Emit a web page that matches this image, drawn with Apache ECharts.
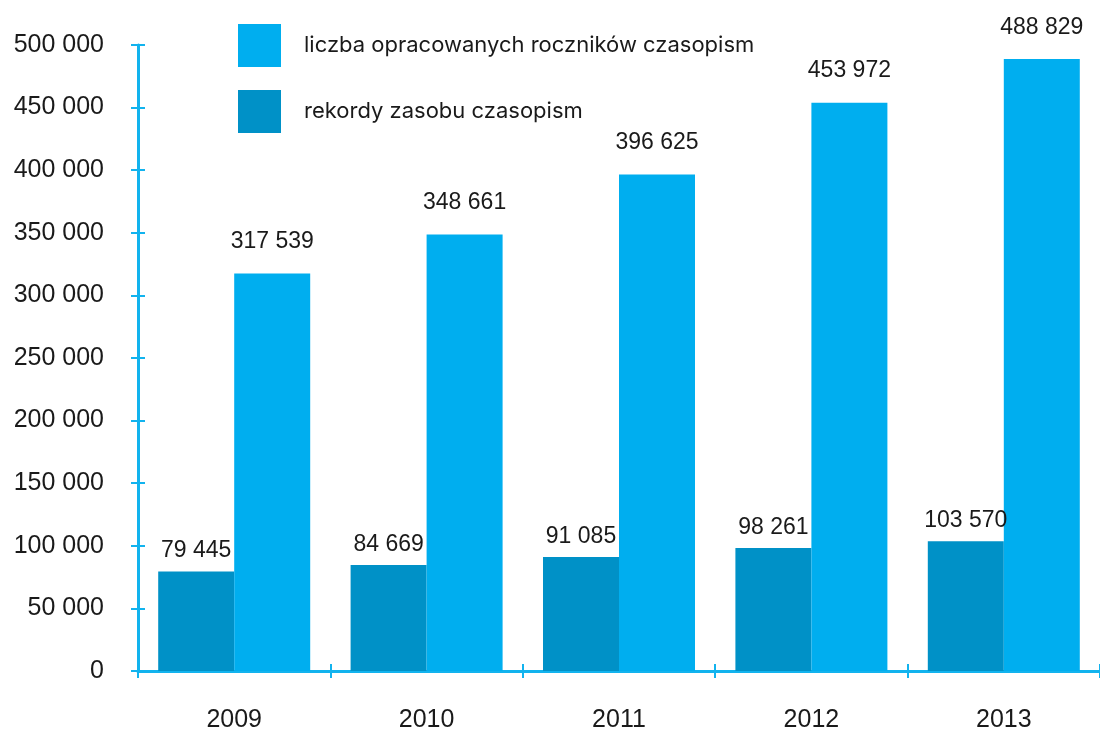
<!DOCTYPE html>
<html>
<head>
<meta charset="utf-8">
<script src="https://cdn.jsdelivr.net/npm/echarts@6/dist/echarts.min.js"></script>
<style>
  html, body { margin: 0; padding: 0; background: #fff; }
  #chart { width: 1100px; height: 733px; }
</style>
</head>
<body>
<div id="chart"></div>
<script>
// lata
var years = ["2009", "2010", "2011", "2012", "2013"];
// rekordy zasobu czasopism
var rekordy = [79445, 84669, 91085, 98261, 103570];
// liczba opracowanych rocznikow czasopism
var roczniki = [317539, 348661, 396625, 453972, 488829];
var seriesNames = ["rekordy zasobu czasopism", "liczba opracowanych roczników czasopism"];

var light = "#00aeef";
var dark = "#0091c7";
var axisColor = "#12b3ee";

function spaced(v) {
  return String(v).replace(/\B(?=(\d{3})+(?!\d))/g, " ");
}

var chart = echarts.init(document.getElementById("chart"));
var option = {
  animation: false,
  textStyle: { fontFamily: "Liberation Sans" },
  legend: {
    orient: "vertical",
    left: 238,
    top: 24,
    padding: 0,
    itemWidth: 43,
    itemHeight: 43,
    itemGap: 23,
    icon: "rect",
    data: [seriesNames[1], seriesNames[0]],
    textStyle: {
      fontFamily: "Inter",
      fontSize: 22,
      color: "#1a1a1a",
      padding: [0, 0, 0, 18]
    }
  },
  grid: {
    left: 138,
    right: -3,
    top: 45,
    bottom: 61,
    containLabel: false
  },
  xAxis: [
    {
      type: "category",
      data: years,
      axisLine: { lineStyle: { color: axisColor, width: 3 } },
      axisTick: { show: true, length: 7, lineStyle: { color: axisColor, width: 2 } },
      axisLabel: { margin: 37, fontSize: 25, color: "#1a1a1a" }
    },
    {
      // druga oś tylko dla kresek do wewnątrz
      type: "category",
      data: years,
      position: "bottom",
      axisLine: { show: false },
      axisTick: { show: true, inside: true, length: 7, lineStyle: { color: axisColor, width: 2 } },
      axisLabel: { show: false }
    }
  ],
  yAxis: [
    {
      type: "value",
      min: 0,
      max: 500000,
      interval: 50000,
      splitLine: { show: false },
      axisLine: { show: true, lineStyle: { color: axisColor, width: 3 } },
      axisTick: { show: true, length: 7, lineStyle: { color: axisColor, width: 2 } },
      axisLabel: {
        margin: 34,
        fontSize: 25,
        color: "#1a1a1a",
        formatter: spaced
      }
    },
    {
      type: "value",
      position: "left",
      min: 0,
      max: 500000,
      interval: 50000,
      splitLine: { show: false },
      axisLine: { show: false },
      axisTick: { show: true, inside: true, length: 7, lineStyle: { color: axisColor, width: 2 } },
      axisLabel: { show: false }
    }
  ],
  series: [
    {
      name: seriesNames[0],
      type: "bar",
      data: rekordy,
      barWidth: 76,
      barGap: "0%",
      itemStyle: { color: dark },
      label: {
        show: true,
        position: "top",
        distance: 9,
        fontSize: 23,
        color: "#1a1a1a",
        formatter: function (p) { return spaced(p.value); }
      }
    },
    {
      name: seriesNames[1],
      type: "bar",
      data: roczniki,
      barWidth: 76,
      barGap: "0%",
      itemStyle: { color: light },
      label: {
        show: true,
        position: "top",
        distance: 20,
        fontSize: 23,
        color: "#1a1a1a",
        formatter: function (p) { return spaced(p.value); }
      }
    }
  ]
};
chart.setOption(option);
</script>
</body>
</html>
